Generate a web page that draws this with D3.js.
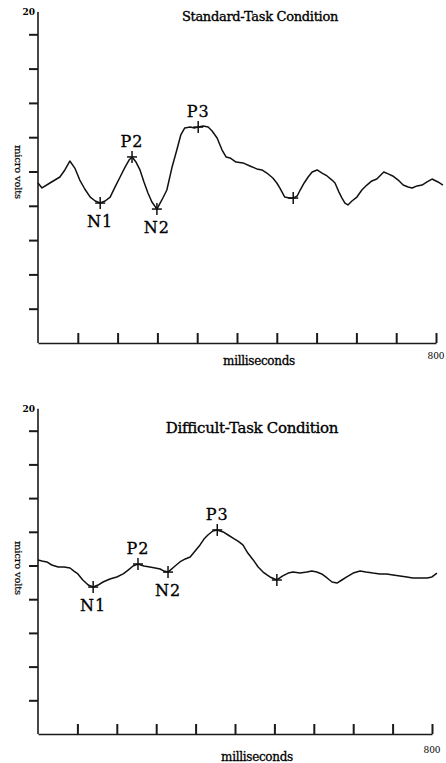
<!DOCTYPE html>
<html>
<head>
<meta charset="utf-8">
<script src="https://cdn.jsdelivr.net/npm/d3@7"></script>
<style>
  body { margin: 0; background: #fff; }
  svg { display: block; }
</style>
</head>
<body>
<script>
// ---- data ----

// x axis ticks, milliseconds
const msTicks = [80, 160, 240, 320, 400, 480, 560, 640, 720, 800];
// y axis ticks, micro volts (only the top one is labelled)
const uvTicks = [2, 4, 6, 8, 10, 12, 14, 16, 18];

// standard-task waveform
const standardMs = [0, 8, 24, 44, 54, 64, 74, 84, 94, 105, 115, 125, 135, 145, 155, 165, 175, 183, 189,
  197, 205, 213, 221, 229, 239, 249, 259, 269, 279, 287, 295, 306, 314, 322, 332, 342, 350, 360, 370,
  378, 386, 398, 412, 426, 440, 450, 460, 472, 480, 486, 496, 505, 513, 521, 527, 535, 543, 551, 561,
  571, 581, 591, 597, 605, 611, 617, 623, 631, 641, 651, 661, 671, 681, 689, 695, 705, 713, 724, 734,
  744, 752, 762, 772, 782, 792, 804, 814];
const standardUv = [9.33, 9.04, 9.33, 9.68, 10.09, 10.61, 10.2, 9.5, 8.98, 8.51, 8.28, 8.16, 8.28, 8.51,
  9.1, 9.68, 10.26, 10.67, 10.85, 10.55, 10.09, 9.39, 8.75, 8.22, 7.81, 8.34, 8.92, 10.2, 11.25, 12.13,
  12.54, 12.59, 12.54, 12.59, 12.65, 12.59, 12.36, 11.95, 11.25, 10.85, 10.79, 10.55, 10.5, 10.32, 10.15,
  10.09, 9.91, 9.62, 9.33, 9.04, 8.51, 8.45, 8.45, 8.57, 8.92, 9.33, 9.68, 9.97, 10.09, 9.91, 9.74, 9.5,
  9.33, 8.8, 8.45, 8.16, 8.05, 8.28, 8.51, 8.92, 9.21, 9.45, 9.56, 9.8, 9.97, 9.85, 9.74, 9.5, 9.21,
  9.1, 9.04, 9.16, 9.21, 9.39, 9.56, 9.39, 9.21];
const standardPeakNames = ["N1", "P2", "N2", "P3", ""];
const standardPeakMs = [125, 189, 239, 322, 513];
const standardPeakUv = [8.16, 10.85, 7.81, 12.59, 8.45];

// difficult-task waveform
const difficultMs = [0, 8, 18, 28, 41, 53, 65, 73, 81, 91, 102, 112, 122, 132, 146, 160, 173, 183, 193,
  203, 215, 227, 238, 248, 256, 264, 276, 288, 299, 309, 319, 329, 337, 345, 355, 364, 376, 386, 396,
  406, 416, 426, 437, 447, 457, 465, 471, 485, 497, 508, 518, 532, 546, 556, 566, 576, 587, 597, 607,
  617, 627, 640, 654, 666, 680, 694, 708, 721, 735, 749, 761, 776, 790, 800, 810];
const difficultUv = [10.33, 10.27, 10.21, 10.03, 9.91, 9.91, 9.85, 9.67, 9.5, 9.14, 8.84, 8.72, 8.84,
  9.02, 9.2, 9.32, 9.5, 9.73, 9.97, 10.09, 9.97, 9.91, 9.85, 9.79, 9.67, 9.61, 9.91, 10.21, 10.39, 10.5,
  10.86, 11.22, 11.57, 11.81, 12.05, 12.11, 11.99, 11.81, 11.63, 11.45, 11.22, 10.74, 10.33, 9.91, 9.61,
  9.44, 9.32, 9.14, 9.38, 9.55, 9.61, 9.55, 9.61, 9.67, 9.61, 9.5, 9.26, 9.02, 8.96, 9.14, 9.32, 9.55,
  9.67, 9.61, 9.55, 9.5, 9.5, 9.44, 9.38, 9.32, 9.26, 9.26, 9.26, 9.32, 9.55];
const difficultPeakNames = ["N1", "P2", "N2", "P3", ""];
const difficultPeakMs = [112, 203, 264, 364, 485];
const difficultPeakUv = [8.72, 10.09, 9.61, 12.11, 9.14];

// ---- layout ----
const width = 446, height = 763;
const svg = d3.select("body").append("svg")
  .attr("width", width)
  .attr("height", height);

const axisTopUv = 19.3;   // the drawn y axis stops a little short of 20

function drawPanel(opt) {
  const g = svg.append("g");

  const x = d3.scaleLinear().domain([0, 800]).range([opt.left, opt.right]);
  const y = d3.scaleLinear().domain([0, 20]).range([opt.bottom, opt.bottom - 20 * opt.unit]);

  // y axis
  const yAxis = g.append("g")
    .attr("transform", "translate(" + opt.left + ",0)")
    .call(d3.axisLeft(y).tickValues(uvTicks).tickSize(9).tickFormat(""));
  yAxis.select(".domain").remove();
  yAxis.selectAll(".tick line").attr("stroke", "#1a1a1a").attr("stroke-width", 2);

  g.append("line")
    .attr("x1", opt.left).attr("x2", opt.left)
    .attr("y1", y(0)).attr("y2", y(axisTopUv))
    .attr("stroke", "#1a1a1a")
    .attr("stroke-width", 1.6);

  g.append("text")
    .attr("x", opt.left - 3)
    .attr("y", y(axisTopUv) + 3)
    .attr("text-anchor", "end")
    .style("font-family", "DejaVu Serif")
    .style("font-size", "9px")
    .style("font-weight", "bold")
    .text("20");

  // x axis
  const xAxis = g.append("g")
    .attr("transform", "translate(0," + opt.bottom + ")")
    .call(d3.axisBottom(x).tickValues(msTicks).tickSize(-10).tickSizeOuter(0).tickFormat(""));
  xAxis.select(".domain").attr("stroke", "#1a1a1a").attr("stroke-width", 1.6);
  xAxis.selectAll(".tick line").attr("stroke", "#1a1a1a").attr("stroke-width", 2);

  g.append("text")
    .attr("x", x(800))
    .attr("y", opt.bottom + opt.endLabelDy)
    .attr("text-anchor", "middle")
    .style("font-family", "DejaVu Serif")
    .style("font-size", "9px")
    .text("800");

  g.append("text")
    .attr("x", x(400) + 22)
    .attr("y", opt.bottom + opt.xLabelDy)
    .attr("text-anchor", "middle")
    .style("font-family", "DejaVu Serif")
    .style("font-size", "12px")
    .style("letter-spacing", "-0.3px")
    .attr("stroke", "#000")
    .attr("stroke-width", 0.3)
    .text("milliseconds");

  g.append("text")
    .attr("transform", "translate(15," + opt.yLabelY + ") rotate(90)")
    .attr("text-anchor", "middle")
    .style("font-family", "DejaVu Serif")
    .style("font-size", "10px")
    .style("letter-spacing", "-0.2px")
    .attr("stroke", "#000")
    .attr("stroke-width", 0.2)
    .text("micro volts");

  // title
  g.append("text")
    .attr("x", opt.titleX)
    .attr("y", opt.titleY)
    .attr("text-anchor", "middle")
    .style("font-family", "DejaVu Serif")
    .style("font-size", opt.titleSize + "px")
    .style("letter-spacing", "-0.3px")
    .attr("stroke", "#000")
    .attr("stroke-width", 0.35)
    .text(opt.title);

  // waveform
  const pts = opt.ms.map((m, i) => [m, opt.uv[i]]);
  const line = d3.line().x(d => x(d[0])).y(d => y(d[1]));
  g.append("path")
    .datum(pts)
    .attr("d", line)
    .attr("fill", "none")
    .attr("stroke", "#111")
    .attr("stroke-width", 1.5)
    .attr("stroke-linejoin", "round");

  // peak markers
  const peaks = opt.names.map((n, i) => ({ name: n, ms: opt.peakMs[i], uv: opt.peakUv[i] }));
  const mk = g.selectAll(".peak").data(peaks).enter().append("g")
    .attr("class", "peak")
    .attr("transform", d => "translate(" + x(d.ms) + "," + y(d.uv) + ")");
  mk.append("line").attr("x1", -5).attr("x2", 5).attr("y1", 0).attr("y2", 0)
    .attr("stroke", "#111").attr("stroke-width", 1.5);
  mk.append("line").attr("x1", 0).attr("x2", 0).attr("y1", -6).attr("y2", 6)
    .attr("stroke", "#111").attr("stroke-width", 1.5);
  mk.append("text")
    .attr("y", d => d.name.startsWith("P") ? -10 : 24)
    .attr("text-anchor", "middle")
    .style("font-family", "DejaVu Serif")
    .style("font-size", "16px")
    .style("letter-spacing", "1px")
    .attr("stroke", "#000")
    .attr("stroke-width", 0.3)
    .text(d => d.name);
}

drawPanel({
  title: "Standard-Task Condition", titleSize: 13,
  ms: standardMs, uv: standardUv,
  names: standardPeakNames, peakMs: standardPeakMs, peakUv: standardPeakUv,
  left: 38, right: 436, bottom: 343, unit: 17.15,
  titleX: 260, titleY: 21, xLabelDy: 22, endLabelDy: 16, yLabelY: 172
});

drawPanel({
  title: "Difficult-Task Condition", titleSize: 15,
  ms: difficultMs, uv: difficultUv,
  names: difficultPeakNames, peakMs: difficultPeakMs, peakUv: difficultPeakUv,
  left: 38, right: 432, bottom: 734, unit: 16.85,
  titleX: 252, titleY: 433, xLabelDy: 27, endLabelDy: 19, yLabelY: 568
});
</script>
</body>
</html>
